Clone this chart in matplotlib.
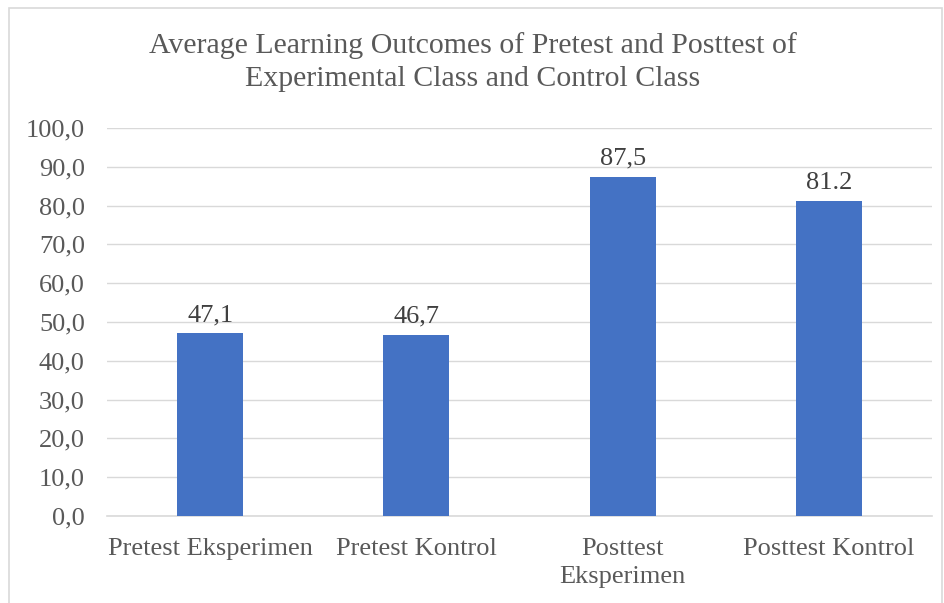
import matplotlib
matplotlib.use('Agg')

import matplotlib.pyplot as plt
import matplotlib.patches as mpatches

categories = ["Pretest Eksperimen", "Pretest Kontrol", "Posttest\nEksperimen", "Posttest Kontrol"]
values = [47.1, 46.7, 87.5, 81.2]
value_labels = ["47,1", "46,7", "87,5", "81.2"]
yticks = [0, 10, 20, 30, 40, 50, 60, 70, 80, 90, 100]
ytick_labels = ["0,0", "10,0", "20,0", "30,0", "40,0", "50,0", "60,0", "70,0", "80,0", "90,0", "100,0"]

TEXT = '#595959'
plt.rcParams['font.family'] = ['Liberation Serif', 'DejaVu Serif']

fig = plt.figure(figsize=(9.45, 6.03), dpi=100)
ax = fig.add_axes([107 / 945, 1 - 516 / 603, (932 - 107) / 945, (516 - 128) / 603])

x = list(range(len(categories)))
bars = ax.bar(x, values, width=0.32, color='#4472c4', zorder=3)

ax.set_xlim(-0.5, len(categories) - 0.5)
ax.set_ylim(0, 100)
ax.set_yticks(yticks)
ax.set_yticklabels(ytick_labels)
ax.set_xticks(x)
ax.set_xticklabels(categories, linespacing=1.35)
ax.tick_params(axis='both', length=0, labelsize=19, colors=TEXT)
ax.tick_params(axis='y', pad=16)
ax.tick_params(axis='x', pad=16)
ax.grid(axis='y', color='#d9d9d9', lw=1.0, zorder=0)
for s in ['top', 'right', 'left']:
    ax.spines[s].set_visible(False)
ax.spines['bottom'].set_color('#d9d9d9')
ax.spines['bottom'].set_linewidth(1.2)

for b, lab in zip(bars, value_labels):
    ax.annotate(lab, (b.get_x() + b.get_width() / 2, b.get_height()),
                xytext=(0, 5), textcoords='offset points',
                ha='center', va='bottom', fontsize=19, color='#404040')

fig.text(0.5, 1 - 62 / 603,
         "Average Learning Outcomes of Pretest and Posttest of\nExperimental Class and Control Class",
         ha='center', va='center', fontsize=21.5, color=TEXT, linespacing=1.32)

fig.patches.append(mpatches.Rectangle((9 / 945, -0.01), (942 - 9) / 945, 1 - 8 / 603 + 0.01,
                                      transform=fig.transFigure, fill=False,
                                      edgecolor='#d9d9d9', lw=1.2))

fig.savefig('out.png', dpi=100, facecolor='white')
